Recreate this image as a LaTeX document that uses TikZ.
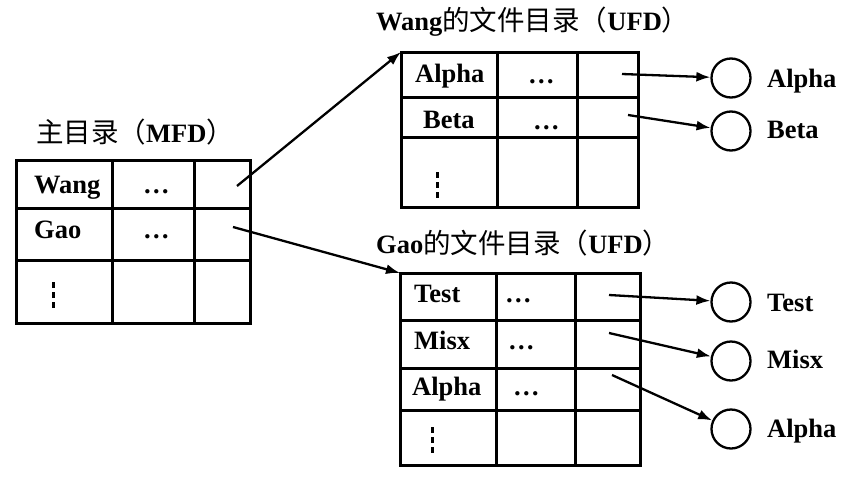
\documentclass[tikz,border=0pt]{standalone}
\usepackage{fontspec}
\setmainfont{Liberation Serif}
\newfontfamily\cjkfam{Noto Sans CJK SC}
\newcommand{\cjk}{\cjkfam\mdseries\fontsize{27.5}{30}\selectfont}
\usetikzlibrary{arrows.meta}
\begin{document}
\begin{tikzpicture}[x=1pt,y=-1pt,
  tbl/.style={line width=3pt},
  lbl/.style={anchor=base west,inner sep=0pt,font=\fontsize{26.5}{30}\selectfont\bfseries},
  ttl/.style={anchor=base west,inner sep=0pt,font=\fontsize{26.5}{30}\selectfont\bfseries},
  vdots/.style={line width=3pt,dash pattern=on 6pt off 4pt},
  ptr/.style={line width=2.3pt,-{Latex[length=14pt,width=10pt]}},
  file/.style={circle,draw,line width=2.3pt,minimum size=39pt,inner sep=0pt}]
\useasboundingbox (0,0) rectangle (859,482);

% ---------- MFD ----------
\node[ttl] (mfdt) at (36,142) {{\cjk 主目录（}MFD{\cjk ）}};
\draw[tbl] (16,160) rectangle (250,323);
\draw[tbl] (16,208) -- (250,208) (16,260) -- (250,260)
           (112,160) -- (112,323) (194,160) -- (194,323);
\node[lbl] (mw) at (34,193) {Wang};
\node[lbl] (mwd) at (143,193) {…};
\node[lbl] (mg) at (34,238) {Gao};
\node[lbl] (mgd) at (143,238) {…};
\draw[vdots] (53,282) -- (53,311);
\coordinate (mwp) at (237,186);
\coordinate (mgp) at (233,227);

% ---------- Wang UFD ----------
\node[ttl] (wt) at (376,30) {Wang{\cjk 的文件目录（}UFD{\cjk ）}};
\draw[tbl] (401,52) rectangle (638,207);
\draw[tbl] (401,97) -- (638,97) (401,137) -- (638,137)
           (497,52) -- (497,207) (577,52) -- (577,207);
\coordinate (wtl) at (401,52);
\node[lbl] (wa) at (415,82) {Alpha};
\node[lbl] (wad) at (528,83) {…};
\node[lbl] (wb) at (423,128) {Beta};
\node[lbl] (wbd) at (533,129) {…};
\draw[vdots] (437,172) -- (437,199);
\coordinate (wap) at (622,74);
\coordinate (wbp) at (628,115);
\node[file] (fwa) at (731,78) {};
\node[file] (fwb) at (731,131) {};
\node[lbl] (fwal) at (767,87) {Alpha};
\node[lbl] (fwbl) at (767,138) {Beta};

% ---------- Gao UFD ----------
\node[ttl] (gt) at (376,253) {Gao{\cjk 的文件目录（}UFD{\cjk ）}};
\draw[tbl] (400,273) rectangle (640,465);
\draw[tbl] (400,320) -- (640,320) (400,368) -- (640,368) (400,410) -- (640,410)
           (496,273) -- (496,465) (575,273) -- (575,465);
\coordinate (gtl) at (400,273);
\node[lbl] (gte) at (414,302) {Test};
\node[lbl] (gted) at (505,302) {…};
\node[lbl] (gm) at (414,349) {Misx};
\node[lbl] (gmd) at (508,349) {…};
\node[lbl] (ga) at (412,395) {Alpha};
\node[lbl] (gad) at (513,395) {…};
\draw[vdots] (432,427) -- (432,456);
\coordinate (gtp) at (609,295);
\coordinate (gmp) at (609,333);
\coordinate (gap) at (612,375);
\node[file] (fgt) at (731,302) {};
\node[file] (fgm) at (731,361) {};
\node[file] (fga) at (731,429) {};
\node[lbl] (fgtl) at (767,311) {Test};
\node[lbl] (fgml) at (767,368) {Misx};
\node[lbl] (fgal) at (767,437) {Alpha};

% ---------- pointers ----------
\draw[ptr] (mwp) -- (wtl);
\draw[ptr] (mgp) -- (gtl);
\draw[ptr] (wap) -- (fwa);
\draw[ptr] (wbp) -- (fwb);
\draw[ptr] (gtp) -- (fgt);
\draw[ptr] (gmp) -- (fgm);
\draw[ptr] (gap) -- (fga);
\end{tikzpicture}
\end{document}
